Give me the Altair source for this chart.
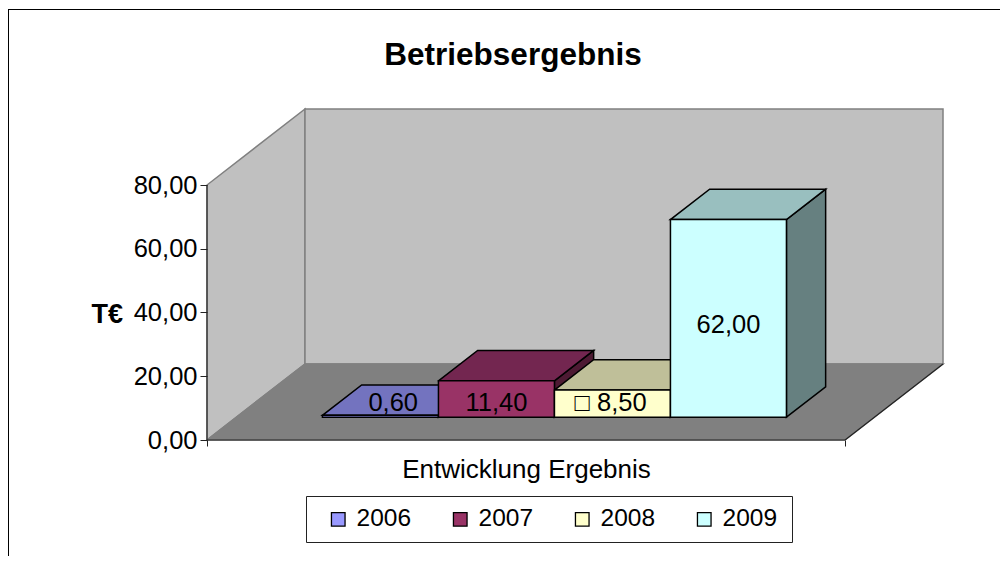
import altair as alt
import pandas as pd

# --- chart values ---
years = ["2006", "2007", "2008", "2009"]
values = [0.60, 11.40, 8.50, 62.00]
value_labels = ["0,60", "11,40", "□ 8,50", "62,00"]
label_heights = [4.4, 4.4, 4.4, 28.8]
label_shifts = [0.02, 0.0, -0.003, 0.0]
front_colors = ["#9999FF", "#993366", "#FFFFCC", "#CCFFFF"]
top_colors = ["#7373BF", "#732650", "#BFBF99", "#99BFBF"]
side_colors = ["#4D4D80", "#4D1A33", "#808066", "#668080"]
axis_ticks = [0, 20, 40, 60, 80]
FONT = "Liberation Sans"

# oblique projection of (x along the category axis, value, depth)
V_MAX = 80
DX = 98 / 638
DY = 76 / 3.1875
BAR = 1 / 5.5
GAP = 0.75 * BAR - 0.0015
Z0, Z1 = 0.3, 0.7


def proj(x, v, z):
    return (x + z * DX, v + z * DY)


def polygon_rows(name, pts, fill=None, stroke=None, year=None):
    """Upper and lower envelope of a convex polygon, for an area mark."""
    rows = []
    n = len(pts)
    for x in sorted({round(p[0], 9) for p in pts}):
        ys = []
        for i in range(n):
            a, b = pts[i], pts[(i + 1) % n]
            lo, hi = sorted((a[0], b[0]))
            if lo - 1e-9 <= x <= hi + 1e-9:
                if abs(b[0] - a[0]) < 1e-9:
                    ys += [a[1], b[1]]
                else:
                    ys.append(a[1] + (b[1] - a[1]) * (x - a[0]) / (b[0] - a[0]))
        rows.append(dict(face=name, px=x, lo=min(ys), hi=max(ys), fill=fill, stroke=stroke, year=year))
    return rows


back, fronts = [], []
back += polygon_rows("wall-left", [proj(0, 0, 0), proj(0, V_MAX, 0), proj(0, V_MAX, 1), proj(0, 0, 1)], "#C0C0C0", "#808080")
back += polygon_rows("wall-back", [proj(0, 0, 1), proj(0, V_MAX, 1), proj(1, V_MAX, 1), proj(1, 0, 1)], "#C0C0C0", "#808080")
back += polygon_rows("floor", [proj(0, 0, 0), proj(1, 0, 0), proj(1, 0, 1), proj(0, 0, 1)], "#808080", "#808080")

labels = []
for i, (yr, v) in enumerate(zip(years, values)):
    x0 = GAP + i * BAR
    x1 = x0 + BAR
    back += polygon_rows(f"side{yr}", [proj(x1, 0, Z0), proj(x1, v, Z0), proj(x1, v, Z1), proj(x1, 0, Z1)], side_colors[i], "black")
    back += polygon_rows(f"top{yr}", [proj(x0, v, Z0), proj(x1, v, Z0), proj(x1, v, Z1), proj(x0, v, Z1)], top_colors[i], "black")
    fronts += polygon_rows(f"front{yr}", [proj(x0, 0, Z0), proj(x1, 0, Z0), proj(x1, v, Z0), proj(x0, v, Z0)], None, "black", yr)
    lx, ly = proj((x0 + x1) / 2 + label_shifts[i], label_heights[i], Z0)
    labels.append(dict(px=lx, py=ly, text=value_labels[i]))

edges = []
for seg, pts in {
    "y-axis": [proj(0, 0, 0), proj(0, V_MAX, 0)],
    "x-axis": [proj(0, 0, 0), proj(1, 0, 0)],
    "floor-edge": [proj(1, 0, 0), proj(1, 0, 1)],
}.items():
    for p in pts:
        edges.append(dict(seg=seg, px=p[0], py=p[1]))

x_scale = alt.Scale(domain=[0, 1 + DX], nice=False, zero=False)
y_scale = alt.Scale(domain=[0, V_MAX + DY], nice=False, zero=False)

x_axis = alt.Axis(
    values=[0, 1], labels=False, grid=False, domain=False, tickSize=6, tickColor="#222222", zindex=1,
    title="Entwicklung Ergebnis", titleFont=FONT, titleFontSize=26, titleFontWeight="normal",
    titleColor="black", titleX=319, titleY=37, titleBaseline="alphabetic", titleAlign="center",
)
y_axis = alt.Axis(
    values=axis_ticks, grid=False, domain=False, tickSize=7, tickColor="#222222", zindex=1,
    labelExpr="replace(format(datum.value, '.2f'), '.', ',')", labelFont=FONT, labelFontSize=25.5,
    labelColor="black", labelPadding=3,
    title="T€", titleFont=FONT, titleFontSize=27, titleFontWeight="bold", titleColor="black",
    titleAngle=0, titleX=-116, titleY=213, titleAlign="left", titleBaseline="alphabetic",
)

faces = (
    alt.Chart(pd.DataFrame(back))
    .mark_area(strokeWidth=1.5, opacity=1)
    .encode(
        x=alt.X("px:Q", scale=x_scale, axis=x_axis),
        y=alt.Y("lo:Q", scale=y_scale, axis=y_axis, stack=None),
        y2="hi:Q",
        detail="face:N",
        fill=alt.Fill("fill:N", scale=None),
        stroke=alt.Stroke("stroke:N", scale=None),
    )
)

front = (
    alt.Chart(pd.DataFrame(fronts))
    .mark_area(strokeWidth=1.5, opacity=1, stroke="black")
    .encode(
        x=alt.X("px:Q", scale=x_scale, axis=x_axis),
        y=alt.Y("lo:Q", scale=y_scale, axis=y_axis, stack=None),
        y2="hi:Q",
        detail="face:N",
        color=alt.Color(
            "year:N",
            scale=alt.Scale(domain=years, range=front_colors),
            legend=alt.Legend(
                title=None, orient="none", direction="horizontal", columns=4,
                legendX=119, legendY=398, symbolType="square", symbolSize=185,
                symbolStrokeColor="black", symbolStrokeWidth=1.3, symbolOpacity=1,
                labelFont=FONT, labelFontSize=24.5, labelColor="black", labelOffset=6,
                columnPadding=36, padding=0,
            ),
        ),
    )
)

edge_lines = (
    alt.Chart(pd.DataFrame(edges))
    .mark_line(color="#222222", strokeWidth=1.1)
    .encode(
        x=alt.X("px:Q", scale=x_scale, axis=x_axis),
        y=alt.Y("py:Q", scale=y_scale, axis=y_axis),
        detail="seg:N",
    )
)

text = (
    alt.Chart(pd.DataFrame(labels))
    .mark_text(font=FONT, fontSize=25.5, color="black", baseline="middle", align="center")
    .encode(
        x=alt.X("px:Q", scale=x_scale, axis=x_axis),
        y=alt.Y("py:Q", scale=y_scale, axis=y_axis),
        text="text:N",
    )
)

one = pd.DataFrame({"a": [0]})
frame_top = alt.Chart(one).mark_rule(color="black", strokeWidth=1).encode(
    x=alt.value(-199), x2=alt.value(793), y=alt.value(-99.5)
)
frame_left = alt.Chart(one).mark_rule(color="black", strokeWidth=1).encode(
    x=alt.value(-198.5), y=alt.value(-100), y2=alt.value(447)
)
legend_box = alt.Chart(one).mark_rect(fill="white", stroke="#222222", strokeWidth=1).encode(
    x=alt.value(99.5), x2=alt.value(585.5), y=alt.value(387.5), y2=alt.value(433.5)
)
chart_title = alt.Chart(one).mark_text(
    text="Betriebsergebnis", font=FONT, fontSize=31.5, fontWeight="bold", color="black",
    align="center", baseline="alphabetic",
).encode(x=alt.value(306), y=alt.value(-44))

chart = (
    alt.layer(faces, front, edge_lines, text, frame_top, frame_left, legend_box, chart_title)
    .properties(
        width=736,
        height=331,
        padding={"left": 199, "top": 101, "right": 57, "bottom": 116},
        autosize=alt.AutoSizeParams(type="none"),
    )
    .configure_view(stroke=None)
)

chart.save("out.html", embed_options={"renderer": "svg", "actions": False})
